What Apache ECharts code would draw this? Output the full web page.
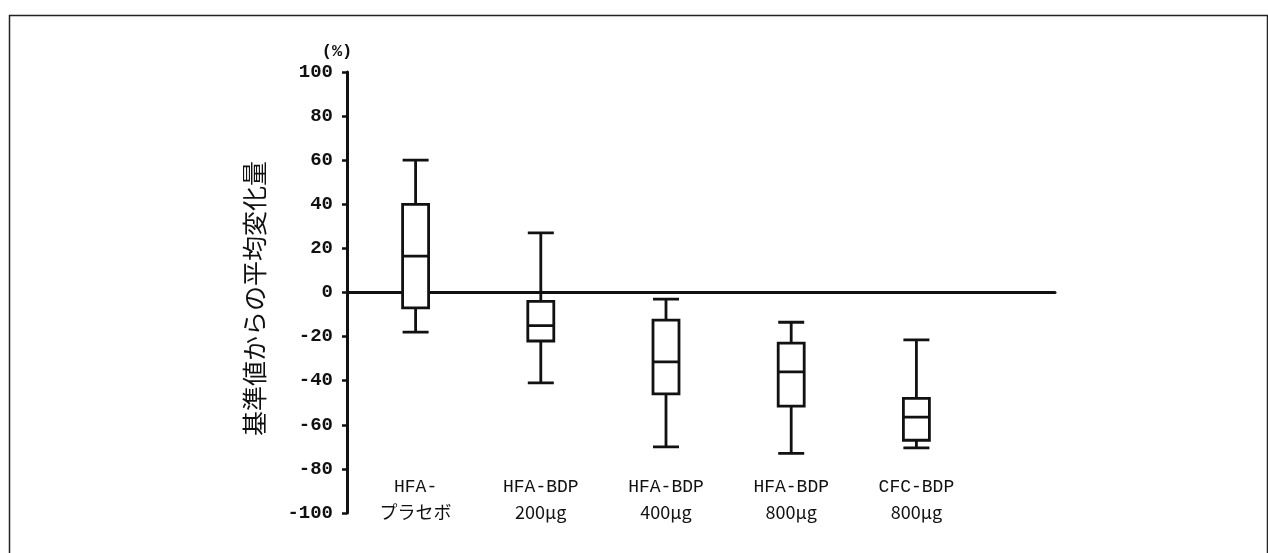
<!DOCTYPE html>
<html>
<head>
<meta charset="utf-8">
<script src="https://cdn.jsdelivr.net/npm/echarts@6/dist/echarts.min.js"></script>
<style>html,body{margin:0;padding:0;background:#fff;}#c{width:1268px;height:553px;}</style>
</head>
<body>
<div id="c"></div>
<script>
// Data
const categories = ['HFA-\nプラセボ', 'HFA-BDP\n200μg', 'HFA-BDP\n400μg', 'HFA-BDP\n800μg', 'CFC-BDP\n800μg'];
// [min, Q1, median, Q3, max]
const hfaPlacebo = [-18, -7, 16.5, 40, 60];
const hfaBdp200 = [-41, -22, -15, -4, 27];
const hfaBdp400 = [-70, -46, -31.5, -12.5, -3];
const hfaBdp800 = [-73, -51.5, -36, -23, -13.5];
const cfcBdp800 = [-70.5, -67, -56.5, -48, -21.5];
const yTicks = [-100, -80, -60, -40, -20, 0, 20, 40, 60, 80, 100];
const yAxisTitle = '基準値からの平均変化量';
const unitLabel = '(%)';

const boxData = [hfaPlacebo, hfaBdp200, hfaBdp400, hfaBdp800, cfcBdp800];

const ink = '#111';
const mono = '"Liberation Mono", "DejaVu Sans Mono", monospace';
const cjk = '"Noto Sans CJK JP", "Noto Sans", sans-serif';

const chart = echarts.init(document.getElementById('c'));
chart.setOption({
  backgroundColor: '#fff',
  animation: false,
  graphic: [{
    type: 'rect', left: 7, top: 13, silent: true,
    shape: { width: 1258, height: 560 },
    style: { fill: 'none', stroke: '#222', lineWidth: 1.5 }
  }],
  grid: [
    { left: 353, top: 72, width: 626, height: 441 },
    { left: 347, top: 72, width: 708, height: 441 }
  ],
  xAxis: [
    {
      gridIndex: 0, type: 'category', data: categories,
      axisLine: { show: false, onZero: false },
      axisTick: { show: false },
      offset: -38,
      axisLabel: {
        margin: 0, interval: 0,
        formatter: function (v) {
          const p = v.split('\n');
          return '{a|' + p[0] + '}\n{b|' + p[1] + '}';
        },
        rich: {
          a: { fontFamily: mono, fontSize: 18, color: ink, lineHeight: 25 },
          b: { fontFamily: cjk, fontSize: 18, color: ink, lineHeight: 25 }
        }
      },
      splitLine: { show: false }
    },
    {
      gridIndex: 1, type: 'value', min: 0, max: 1,
      axisLine: { show: true, onZero: true, onZeroAxisIndex: 1, lineStyle: { color: ink, width: 3 } },
      axisTick: { show: false }, axisLabel: { show: false }, splitLine: { show: false }
    }
  ],
  yAxis: [
    {
      gridIndex: 0, type: 'value', min: -100, max: 100, interval: 20,
      axisLine: { show: false }, axisTick: { show: false }, axisLabel: { show: false },
      splitLine: { show: false },
      name: yAxisTitle, nameLocation: 'middle', nameGap: 86, nameRotate: 90,
      nameTextStyle: { fontFamily: cjk, fontSize: 25, color: ink, padding: [0, 12, 0, 0] }
    },
    {
      gridIndex: 1, type: 'value', min: -100, max: 100, interval: 20,
      axisLine: { show: true, lineStyle: { color: ink, width: 3 } },
      axisTick: { show: true, inside: false, length: 5, lineStyle: { color: ink, width: 2.5 } },
      axisLabel: {
        margin: 14, fontFamily: mono, fontSize: 19, fontWeight: 'bold', color: ink,
        customValues: yTicks
      },
      splitLine: { show: false },
      name: unitLabel, nameLocation: 'end', nameGap: 12,
      nameTextStyle: { fontFamily: mono, fontSize: 17, fontWeight: 'bold', color: ink, padding: [0, 20, 0, 0] }
    }
  ],
  series: [{
    type: 'boxplot',
    xAxisIndex: 0, yAxisIndex: 0,
    data: boxData,
    boxWidth: [26, 26],
    itemStyle: { color: '#fff', borderColor: ink, borderWidth: 2.8 },
    z: 5
  }]
});
</script>
</body>
</html>
